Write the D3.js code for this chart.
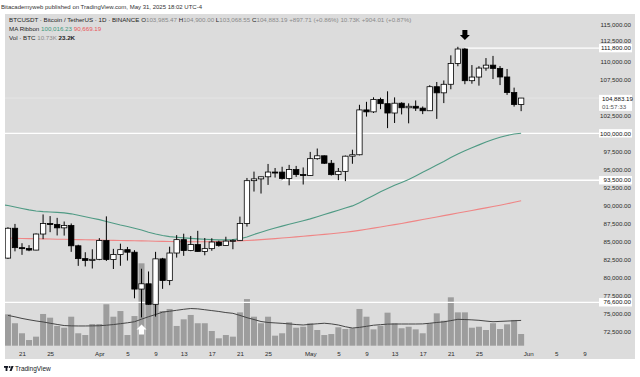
<!DOCTYPE html>
<html>
<head>
<meta charset="utf-8">
<script src="https://cdn.jsdelivr.net/npm/d3@7"></script>
<style>
  body { margin: 0; background: #fff; }
  svg { display: block; font-family: "Liberation Sans", Arial, sans-serif; }
</style>
</head>
<body>
<div id="chart"></div>
<script>
// daily candles, 19 Mar 2025 .. 31 May 2025
const firstDay = new Date(Date.UTC(2025, 2, 19));
const opens = [82718, 86854, 84167, 84043, 83832, 86054, 87498, 87391, 86909, 87232, 84424, 82648, 82390,
  82550, 85159, 82516, 83213, 83889, 83537, 78430, 79163, 76322, 82615, 79607, 83423, 85276, 83760, 84591, 83643,
  84030, 84947, 84474, 85077, 85179, 87516, 93442, 93691, 93980, 94638, 94630, 93755, 94981, 94284,
  94172, 96489, 96887, 95856, 94277, 94733, 96834, 97032, 103241, 102971, 104697, 104106, 102812, 104170,
  103539, 103745, 103489, 103126, 106454, 105606, 106791, 109679, 111673, 107287, 107791, 109035, 109440,
  108994, 107802, 105641, 103985.47];
const highs = [87000, 87453, 84782, 84513, 86129, 88765, 88539, 88292, 87786, 87515, 84569, 83534, 83943,
  85487, 88500, 83998, 84720, 84266, 83817, 81243, 80867, 83588, 82753, 84300, 85905, 86100, 85785, 86496, 85500,
  85470, 85132, 85677, 85320, 88465, 93817, 94696, 94000, 95758, 95199, 95369, 95630, 95485, 95275,
  97425, 97895, 96935, 96304, 95199, 96920, 97732, 103950, 104361, 104984, 104937, 105819, 104976, 104300,
  104150, 104550, 103718, 106660, 107108, 107320, 110797, 111980, 111800, 109454, 109300, 110422, 110718,
  109313, 108910, 106326, 104900];
const lows = [82600, 83655, 83171, 83675, 83800, 85345, 86310, 85858, 85838, 83585, 81644, 81565, 81279,
  82432, 82320, 81211, 81659, 82379, 77153, 74508, 76239, 74620, 78464, 78972, 82792, 83034, 83678, 83600, 83111,
  83736, 84303, 84433, 83949, 85144, 87084, 91935, 91660, 92855, 93870, 93602, 92800, 93965, 92910,
  94111, 96350, 95753, 94151, 93514, 93377, 95784, 96947, 102315, 102818, 103346, 100718, 101429, 102618,
  101383, 103100, 102659, 103105, 102000, 104184, 106100, 109285, 106800, 106868, 106600, 108670, 107516,
  106681, 105322, 103700, 103068.55];
const closes = [86854, 84167, 84043, 83832, 86054, 87498, 87391, 86909, 87232, 84424, 82648, 82390, 82550,
  85159, 82516, 83213, 83889, 83537, 78430, 79163, 76322, 82615, 79607, 83423, 85276, 83760, 84591, 83643, 84030,
  84947, 84474, 85077, 85179, 87516, 93442, 93691, 93980, 94638, 94630, 93755, 94981, 94284, 94172,
  96489, 96887, 95856, 94277, 94733, 96834, 97032, 103241, 102971, 104697, 104106, 102812, 104170, 103539,
  103745, 103489, 103126, 106454, 105606, 106791, 109679, 111673, 107287, 107791, 109035, 109440, 108994,
  107802, 105641, 103985.47, 104883.19];
// volume, thousands of BTC
const volumes = [28.8, 20.6, 11.4, 5.2, 8.3, 29.1, 25.7, 18.1, 16.5, 26.6, 11.4, 9.8, 19.9,
  19.9, 38.0, 26.6, 31.8, 9.8, 27.2, 75.6, 41.0, 56.0, 31.8, 33.7, 18.1, 24.2, 28.2, 20.6, 20.6,
  13.5, 6.8, 9.8, 8.3, 30.6, 42.8, 26.6, 20.6, 26.6, 9.2, 11.4, 21.5, 16.5, 17.4,
  20.6, 14.4, 9.8, 10.7, 16.9, 15.3, 16.0, 33.7, 26.6, 15.0, 18.3, 30.3, 20.6, 16.0,
  17.4, 15.0, 11.4, 20.6, 29.7, 22.9, 44.4, 30.6, 30.6, 16.5, 17.4, 14.4, 20.6,
  15.3, 19.6, 23.6, 10.73];
const volumeMa = [27.8, 26.5, 25.0, 23.8, 22.7, 21.8, 20.6, 19.5, 18.5, 18.2, 18.1, 18.1, 18.2,
  18.3, 18.8, 19.4, 20.2, 21.0, 22.0, 24.3, 26.6, 28.6, 30.8, 31.6, 32.5, 33.4, 34.1, 33.8, 33.0,
  32.2, 31.4, 30.4, 29.7, 27.8, 25.7, 24.0, 22.2, 21.3, 20.9, 20.5, 20.0, 19.4, 19.0,
  19.6, 20.1, 20.6, 20.0, 19.0, 17.4, 16.2, 16.8, 17.8, 18.8, 19.3, 19.8, 19.9, 19.9,
  19.9, 19.9, 20.0, 20.6, 21.3, 21.9, 23.0, 24.2, 24.0, 23.7, 23.3, 22.6, 22.0,
  22.3, 22.6, 22.9, 23.2];

// MA ribbon, 18 Mar 2025 .. 31 May 2025
const maFirstDay = new Date(Date.UTC(2025, 2, 18));
const maGreen = [90150, 90000, 89800, 89600, 89400, 89250, 89150, 89100, 89050, 88980, 88850, 88650, 88450, 88250,
  88050, 87800, 87550, 87300, 87100, 86850, 86600, 86300, 86050, 85850, 85700, 85600, 85520, 85450, 85380, 85320,
  85280, 85250, 85250, 85280, 85400, 85650, 86000, 86300, 86600, 86900, 87150, 87400, 87650, 87900,
  88150, 88450, 88750, 89050, 89350, 89650, 89950, 90400, 90900, 91400, 91900, 92350, 92800, 93200,
  93600, 94100, 94600, 95100, 95600, 96100, 96650, 97150, 97600, 98000, 98400, 98800, 99150,
  99450, 99700, 99900, 100016.23];
const maRed = [85500, 85480, 85460, 85440, 85420, 85400, 85380, 85360, 85340, 85320, 85300, 85280, 85260, 85240,
  85220, 85200, 85180, 85160, 85140, 85120, 85100, 85080, 85060, 85040, 85020, 85000, 84990, 84980, 84980, 84990,
  85000, 85020, 85040, 85060, 85100, 85150, 85210, 85280, 85350, 85420, 85500, 85580, 85660, 85740,
  85830, 85920, 86010, 86100, 86200, 86300, 86420, 86560, 86710, 86870, 87030, 87190, 87350, 87520,
  87700, 87880, 88060, 88240, 88420, 88600, 88780, 88960, 89140, 89320, 89500, 89680, 89860,
  90040, 90240, 90450, 90669.19];

// 100,000 and 105,000 sit under the level / last price labels
const priceTicks = [72500, 75000, 77500, 80000, 82500, 85000, 87500, 90000, 92500, 95000, 97500,
  102500, 107500, 110000, 112500, 115000];
const dateTicks = ["2025-03-21", "2025-03-25", "2025-04-01", "2025-04-05", "2025-04-09", "2025-04-13",
  "2025-04-17", "2025-04-21", "2025-04-25", "2025-05-01", "2025-05-05", "2025-05-09", "2025-05-13",
  "2025-05-17", "2025-05-21", "2025-05-25", "2025-06-01", "2025-06-05", "2025-06-09"];
const dateLabels = ["21", "25", "Apr", "5", "9", "13", "17", "21", "25", "May", "5", "9", "13", "17",
  "21", "25", "Jun", "5", "9"];

// drawn horizontal levels (null start = from left edge)
const levels = [111800, 100000, 93500, 76600];
const levelStarts = ["2025-05-23", null, "2025-04-27", null];

const days = d3.utcDay.range(firstDay, d3.utcDay.offset(firstDay, closes.length));
const maDays = d3.utcDay.range(maFirstDay, d3.utcDay.offset(maFirstDay, maGreen.length));
const candles = days.map((d, i) => ({date: d, o: opens[i], h: highs[i], l: lows[i], c: closes[i], v: volumes[i], vma: volumeMa[i]}));

const W = 640, H = 377;
const panel = {left: 5, top: 14, right: 635, bottom: 359};
const plotRight = 600;

const x = d3.scaleUtc()
  .domain([new Date(Date.UTC(2025, 2, 21)), new Date(Date.UTC(2025, 5, 9))])
  .range([22, 584.4]);
const y = d3.scaleLinear().domain([72500, 115000]).range([331.9, 25]);
const yVol = d3.scaleLinear().domain([0, 80]).range([345.7, 345.7 - 87.2]);

const svg = d3.select("#chart").append("svg")
  .attr("width", W)
  .attr("height", H);

svg.append("rect").attr("width", W).attr("height", H).attr("fill", "#fff");
svg.append("rect")
  .attr("x", panel.left).attr("y", panel.top)
  .attr("width", panel.right - panel.left).attr("height", panel.bottom - panel.top)
  .attr("fill", "#dcdcdc");

svg.append("clipPath").attr("id", "plot")
  .append("rect")
  .attr("x", panel.left).attr("y", panel.top)
  .attr("width", plotRight - panel.left).attr("height", 346 - panel.top);

const plot = svg.append("g").attr("clip-path", "url(#plot)");

// volume
const barW = 6;
plot.append("g")
  .selectAll("rect")
  .data(candles)
  .enter()
  .append("rect")
  .attr("x", d => x(d.date) - barW / 2)
  .attr("y", d => yVol(d.v))
  .attr("width", barW)
  .attr("height", d => yVol(0) - yVol(d.v))
  .attr("fill", "#9d9d9d");

plot.append("path")
  .datum(candles)
  .attr("fill", "none")
  .attr("stroke", "#454545")
  .attr("stroke-width", 1)
  .attr("d", d3.line().x(d => x(d.date)).y(d => yVol(d.vma)));

// current price line
plot.append("line")
  .attr("x1", panel.left).attr("x2", plotRight)
  .attr("y1", y(closes[closes.length - 1])).attr("y2", y(closes[closes.length - 1]))
  .attr("stroke", "#e9e9e9").attr("stroke-width", 0.8);

// user drawn levels
plot.append("g")
  .selectAll("line")
  .data(levels)
  .enter()
  .append("line")
  .attr("x1", (d, i) => levelStarts[i] ? x(new Date(levelStarts[i])) : panel.left)
  .attr("x2", plotRight)
  .attr("y1", d => y(d)).attr("y2", d => y(d))
  .attr("stroke", "#ffffff")
  .attr("stroke-width", 1.3);

// MA ribbon
const maLine = d3.line().x((d, i) => x(maDays[i])).y(d => y(d));
plot.append("path").datum(maRed)
  .attr("fill", "none").attr("stroke", "#ef8585").attr("stroke-width", 1.1)
  .attr("d", maLine);
plot.append("path").datum(maGreen)
  .attr("fill", "none").attr("stroke", "#4f9a84").attr("stroke-width", 1.1)
  .attr("d", maLine);

// candles
const bodyW = 5.4;
const cg = plot.append("g")
  .selectAll("g")
  .data(candles)
  .enter()
  .append("g");

cg.append("line")
  .attr("x1", d => x(d.date)).attr("x2", d => x(d.date))
  .attr("y1", d => y(d.h)).attr("y2", d => y(d.l))
  .attr("stroke", "#000").attr("stroke-width", 1);

cg.append("rect")
  .attr("x", d => x(d.date) - bodyW / 2)
  .attr("y", d => y(Math.max(d.o, d.c)))
  .attr("width", bodyW)
  .attr("height", d => Math.max(1, Math.abs(y(d.o) - y(d.c))))
  .attr("fill", d => d.c >= d.o ? "#fff" : "#000")
  .attr("stroke", "#000")
  .attr("stroke-width", 0.8);

// arrows
function arrow(cx, tip, dir) {
  // dir 1 = pointing down, -1 = pointing up
  const p = d3.path();
  p.moveTo(cx, tip);
  p.lineTo(cx - 5, tip - dir * 5);
  p.lineTo(cx - 2.5, tip - dir * 5);
  p.lineTo(cx - 2.5, tip - dir * 10);
  p.lineTo(cx + 2.5, tip - dir * 10);
  p.lineTo(cx + 2.5, tip - dir * 5);
  p.lineTo(cx + 5, tip - dir * 5);
  p.closePath();
  return p.toString();
}
const peak = candles[days.findIndex(d => +d === Date.UTC(2025, 4, 23))];
const bottom = candles[days.findIndex(d => +d === Date.UTC(2025, 3, 7))];
svg.append("path")
  .attr("d", arrow(x(peak.date), y(peak.h) - 8, 1))
  .attr("fill", "#000");
svg.append("path")
  .attr("d", arrow(x(bottom.date), y(bottom.l) + 7, -1))
  .attr("fill", "#fff");

// price axis
const yAxis = svg.append("g")
  .attr("transform", `translate(631,0)`)
  .call(d3.axisRight(y).tickValues(priceTicks).tickSize(0).tickFormat(d3.format(",.2f")));
yAxis.select(".domain").remove();
yAxis.selectAll("text")
  .attr("x", 0)
  .attr("text-anchor", "end")
  .attr("fill", "#2a2a2a")
  .style("font-size", "6.2px")
  .style("font-family", "'Liberation Sans', Arial, sans-serif");
// the 112,500 label sits just above the 111,800 box
yAxis.selectAll(".tick").filter(d => d === 112500).select("text").attr("dy", "-0.05em");

// level labels
const lab = svg.append("g")
  .selectAll("g")
  .data(levels)
  .enter()
  .append("g")
  .attr("transform", d => `translate(0,${y(d)})`);
lab.append("rect")
  .attr("x", 599).attr("y", -4.2).attr("width", 33).attr("height", 8.4)
  .attr("fill", "#fff");
lab.append("text")
  .attr("x", 631).attr("y", 2.2)
  .attr("text-anchor", "end")
  .attr("fill", "#111")
  .style("font-size", "6.2px")
  .text(d => d3.format(",.2f")(d));

// last price label with countdown
const lastY = y(closes[closes.length - 1]);
svg.append("rect")
  .attr("x", 599).attr("y", lastY - 3.2).attr("width", 33).attr("height", 16)
  .attr("fill", "#fff");
svg.append("text")
  .attr("x", 602).attr("y", lastY + 3)
  .attr("fill", "#111")
  .style("font-size", "6.2px")
  .text(d3.format(",.2f")(closes[closes.length - 1]));
svg.append("text")
  .attr("x", 602).attr("y", lastY + 11)
  .attr("fill", "#555")
  .style("font-size", "6.2px")
  .text("01:57:33");

// date axis
const xAxis = svg.append("g")
  .attr("transform", "translate(0,349)")
  .call(d3.axisBottom(x)
    .tickValues(dateTicks.map(s => new Date(s)))
    .tickSize(0)
    .tickFormat((d, i) => dateLabels[i]));
xAxis.select(".domain").remove();
xAxis.selectAll("text")
  .attr("fill", "#2a2a2a")
  .style("font-size", "6.2px")
  .style("font-family", "'Liberation Sans', Arial, sans-serif");

// header
svg.append("text")
  .attr("x", 1).attr("y", 9)
  .attr("fill", "#333")
  .style("font-size", "6px")
  .text("Bitacademyweb published on TradingView.com, May 31, 2025 18:02 UTC-4");

const dark = "#1e1e1e", grey = "#8a8a8a";
const legend1 = svg.append("text").attr("x", 9).attr("y", 22).style("font-size", "6.2px");
[
  ["BTCUSDT · Bitcoin / TetherUS · 1D · BINANCE ", dark],
  ["O", dark], ["103,985.47 ", grey],
  ["H", dark], ["104,900.00 ", grey],
  ["L", dark], ["103,068.55 ", grey],
  ["C", dark], ["104,883.19 ", grey],
  ["+897.71 (+0.86%) ", grey],
  ["10.73K ", grey],
  ["+904.01 (+0.87%)", grey]
].forEach(([t, c]) => legend1.append("tspan").attr("fill", c).text(t));

const legend2 = svg.append("text").attr("x", 9).attr("y", 31).style("font-size", "6.2px");
legend2.append("tspan").attr("fill", dark).text("MA Ribbon ");
legend2.append("tspan").attr("fill", "#3c9a7c").text("100,016.23 ");
legend2.append("tspan").attr("fill", "#e8575a").text("90,669.19");

const legend3 = svg.append("text").attr("x", 9).attr("y", 40).style("font-size", "6.2px");
legend3.append("tspan").attr("fill", dark).text("Vol · BTC ");
legend3.append("tspan").attr("fill", grey).text("10.73K ");
legend3.append("tspan").attr("fill", dark).attr("font-weight", "bold").text("23.2K");

// footer logo
const logo = svg.append("g").attr("transform", "translate(4,366)").attr("fill", "#131722");
logo.append("rect").attr("x", 0).attr("y", 0).attr("width", 4).attr("height", 1.8);
logo.append("rect").attr("x", 1.6).attr("y", 0).attr("width", 1.8).attr("height", 5);
logo.append("circle").attr("cx", 5.6).attr("cy", 1).attr("r", 1);
logo.append("path").attr("d", "M7.4,0 L9.6,0 L7.6,5 L5.6,5 Z");
svg.append("text")
  .attr("x", 15).attr("y", 371)
  .attr("fill", "#131722")
  .style("font-size", "6.5px")
  .text("TradingView");
</script>
</body>
</html>
